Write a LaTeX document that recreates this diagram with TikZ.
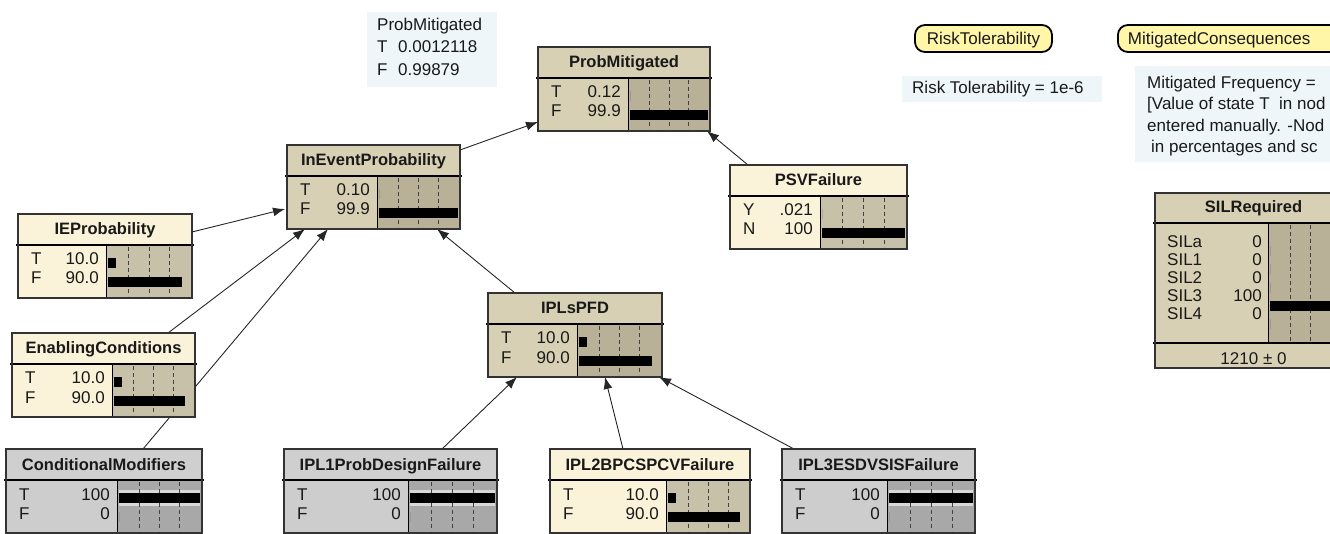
\documentclass[tikz,border=0pt]{standalone}
\usepackage{fontspec}
\setmainfont{Liberation Sans}
\usepackage{xcolor}
\usepackage{tikz}
\usetikzlibrary{arrows.meta,backgrounds}

\definecolor{tantitle}{RGB}{216,208,180}
\definecolor{tanbody}{RGB}{216,208,180}
\definecolor{tanbar}{RGB}{184,177,152}
\definecolor{tanband}{RGB}{184,177,152}
\definecolor{creamtitle}{RGB}{250,242,217}
\definecolor{creambody}{RGB}{250,242,217}
\definecolor{creambar}{RGB}{200,193,170}
\definecolor{creamband}{RGB}{200,193,170}
\definecolor{greytitle}{RGB}{207,207,207}
\definecolor{greybody}{RGB}{205,205,205}
\definecolor{greybar}{RGB}{168,168,168}
\definecolor{greyband}{RGB}{216,216,216}
\definecolor{notefill}{RGB}{238,246,250}
\definecolor{constfill}{RGB}{255,246,168}

\tikzset{
  bnframe/.style={minimum height=84pt, inner sep=0pt, outer sep=0pt},
  bnborder/.style={draw=black!80, line width=1.1pt},
  bntitle/.style={font=\fontsize{16.5}{18}\selectfont\bfseries,
    text=black!90, inner sep=0pt},
  bnstate/.style={font=\fontsize{17}{19}\selectfont, text=black!90,
    inner sep=0pt},
  bnrule/.style={line width=2pt, draw=black},
  bnsplit/.style={line width=1pt, draw=black},
  bntick/.style={line width=0.9pt, draw=black!75,
    dash pattern=on 4pt off 3pt},
  bnlink/.style={-{Latex[length=12pt,width=9pt]}, line width=0.9pt,
    draw=black!85},
  bnnote/.style={fill=notefill, inner sep=0pt},
  notetext/.style={font=\fontsize{17}{19}\selectfont, text=black!90,
    inner sep=0pt},
  bnconst/.style={draw=black, line width=1.8pt, fill=constfill,
    rounded corners=10pt, minimum height=27pt, inner sep=0pt,
    font=\fontsize{17}{19}\selectfont, text=black!90,
    text height=12pt, text depth=0pt}
}

% #1 name, #2/#3 top left corner, #4 width, #5 width of the state column,
% #6 palette (tan, cream, grey), #7 title, #8 rows as state/value/percent
\newcommand{\beliefbox}[8]{%
  \node[bnframe, fill=#6title, minimum width=#4pt, anchor=north west]
    (#1) at (#2,#3) {};
  \fill[#6body] ([yshift=-31pt]#1.north west) rectangle (#1.south east);
  \fill[#6bar] ([xshift=#5pt,yshift=-31pt]#1.north west)
    rectangle (#1.south east);
  \foreach \sname/\sval/\spct [count=\i] in {#8} {
    \pgfmathsetmacro{\rowb}{-32-19*\i}
    \pgfmathsetmacro{\barlen}{\spct<0.5 ? 0 : \spct/100*(#4-#5-4)}
    \fill[#6band] ([xshift=#5pt+2pt,yshift=\rowb pt+10pt]#1.north west)
      rectangle ++(\barlen pt,-16pt);
  }
  \foreach \tk in {0.25,0.5,0.75} {
    \pgfmathsetmacro{\tickx}{#5+2+\tk*(#4-#5-4)}
    \draw[bntick] ([xshift=\tickx pt,yshift=-33pt]#1.north west)
      -- ([xshift=\tickx pt,yshift=2pt]#1.south west);
  }
  \foreach \sname/\sval/\spct [count=\i] in {#8} {
    \pgfmathsetmacro{\rowb}{-32-19*\i}
    \pgfmathsetmacro{\barlen}{\spct<0.5 ? 0 : \spct/100*(#4-#5-4)}
    \fill[black] ([xshift=#5pt+2pt,yshift=\rowb pt+7pt]#1.north west)
      rectangle ++(\barlen pt,-10pt);
    \node[bnstate, anchor=base west]
      at ([xshift=13pt,yshift=\rowb pt]#1.north west) {\sname};
    \node[bnstate, anchor=base east]
      at ([xshift=#5pt-7pt,yshift=\rowb pt]#1.north west) {\sval};
  }
  \node[bntitle, anchor=base] at ([yshift=-21pt]#1.north) {#7};
  \draw[bnsplit] ([xshift=#5pt,yshift=-31pt]#1.north west)
    -- ([xshift=#5pt]#1.south west);
  \draw[bnrule] ([xshift=-2pt,yshift=-31pt]#1.north west)
    -- ([xshift=2pt,yshift=-31pt]#1.north east);
  \draw[bnborder] (#1.north west) rectangle (#1.south east);
}

\begin{document}
\begin{tikzpicture}[x=1pt,y=-1pt]
  \useasboundingbox (0,0) rectangle (1330,534);
  \clip (0,0) rectangle (1330,534);

  % notes
  \node[bnnote, minimum width=130pt, minimum height=75pt,
    anchor=north west] (probnote) at (367,12) {};
  \node[notetext, anchor=base west] (probnotehead)
    at ([xshift=10pt,yshift=-19pt]probnote.north west) {ProbMitigated};
  \node[notetext, anchor=base west] (probnotet)
    at ([xshift=10pt,yshift=-41pt]probnote.north west) {T};
  \node[notetext, anchor=base west] (probnotetv)
    at ([xshift=31pt,yshift=-41pt]probnote.north west) {0.0012118};
  \node[notetext, anchor=base west] (probnotef)
    at ([xshift=10pt,yshift=-64pt]probnote.north west) {F};
  \node[notetext, anchor=base west] (probnotefv)
    at ([xshift=31pt,yshift=-64pt]probnote.north west) {0.99879};

  \node[bnnote, minimum width=200pt, minimum height=26pt,
    anchor=north west] (risknote) at (902,76) {};
  \node[notetext, anchor=base west] (risknotetext)
    at ([xshift=10pt,yshift=-18pt]risknote.north west)
    {Risk Tolerability = 1e-6};

  \node[bnnote, minimum width=205pt, minimum height=96pt,
    anchor=north west] (mitnote) at (1135,66) {};
  \node[notetext, anchor=base west] (mitnotea)
    at ([xshift=12pt,yshift=-23pt]mitnote.north west)
    {Mitigated Frequency =};
  \node[notetext, anchor=base west] (mitnoteb)
    at ([xshift=12pt,yshift=-44pt]mitnote.north west)
    {[Value of state T\ \ in nod};
  \node[notetext, anchor=base west] (mitnotec)
    at ([xshift=12pt,yshift=-66pt]mitnote.north west)
    {entered manually. -Nod};
  \node[notetext, anchor=base west] (mitnoted)
    at ([xshift=16pt,yshift=-87pt]mitnote.north west)
    {in percentages and sc};

  % constant nodes
  \node[bnconst, minimum width=137pt] (risktol) at (983.5,38.5)
    {RiskTolerability};
  \node[bnconst, anchor=west, inner xsep=10pt, text width=220pt,
    align=left] (mitcons) at (1117,38.5) {MitigatedConsequences};

  % belief nodes
  \beliefbox{probmit}{538}{47}{172}{90}{tan}{ProbMitigated}
    {T/0.12/0.12, F/99.9/99.9}
  \beliefbox{inevent}{287}{145}{173}{90}{tan}{InEventProbability}
    {T/0.10/0.10, F/99.9/99.9}
  \beliefbox{ieprob}{18}{214}{174}{88}{cream}{IEProbability}
    {T/10.0/10, F/90.0/90}
  \beliefbox{psv}{730}{165}{177}{90}{cream}{PSVFailure}
    {Y/.021/0.021, N/100/100}
  \beliefbox{enabling}{12}{333}{183}{100}{cream}{EnablingConditions}
    {T/10.0/10, F/90.0/90}
  \beliefbox{iplspfd}{488}{293}{174}{89}{tan}{IPLsPFD}
    {T/10.0/10, F/90.0/90}
  \beliefbox{condmod}{6}{449}{196}{111}{grey}{ConditionalModifiers}
    {T/100/100, F/0/0}
  \beliefbox{iplone}{284}{449}{213}{124}{grey}{IPL1ProbDesignFailure}
    {T/100/100, F/0/0}
  \beliefbox{ipltwo}{550}{449}{200}{116}{cream}{IPL2BPCSPCVFailure}
    {T/10.0/10, F/90.0/90}
  \beliefbox{iplthree}{782}{449}{193}{105}{grey}{IPL3ESDVSISFailure}
    {T/100/100, F/0/0}

  % SIL node, five states and a footer
  \node[bnframe, fill=tantitle, minimum width=197pt, minimum height=175pt,
    anchor=north west] (silreq) at (1155,193) {};
  \fill[tanbar] ([xshift=113pt,yshift=-30pt]silreq.north west)
    rectangle ([yshift=25pt]silreq.south east);
  \foreach \tk in {0.25,0.5,0.75} {
    \pgfmathsetmacro{\tickx}{115+\tk*80}
    \draw[bntick] ([xshift=\tickx pt,yshift=-32pt]silreq.north west)
      -- ([xshift=\tickx pt,yshift=27pt]silreq.south west);
  }
  \foreach \sname/\sval/\spct [count=\i] in
      {SILa/0/0, SIL1/0/0, SIL2/0/0, SIL3/100/100, SIL4/0/0} {
    \pgfmathsetmacro{\rowb}{-36-18.2*\i}
    \fill[black] ([xshift=115pt,yshift=\rowb pt+1pt]silreq.north west)
      rectangle ++(\spct/100*80pt,-10pt);
    \node[bnstate, anchor=base west]
      at ([xshift=12pt,yshift=\rowb pt]silreq.north west) {\sname};
    \node[bnstate, anchor=base east]
      at ([xshift=107pt,yshift=\rowb pt]silreq.north west) {\sval};
  }
  \node[bntitle, anchor=base] at ([yshift=-20pt]silreq.north) {SILRequired};
  \node[bnstate, anchor=base] at ([yshift=-172pt]silreq.north) {1210 ± 0};
  \draw[bnsplit] ([xshift=113pt,yshift=-30pt]silreq.north west)
    -- ([xshift=113pt,yshift=25pt]silreq.south west);
  \draw[bnrule] ([xshift=-2pt,yshift=-30pt]silreq.north west)
    -- ([xshift=2pt,yshift=-30pt]silreq.north east);
  \draw[bnrule] ([xshift=-2pt,yshift=25pt]silreq.south west)
    -- ([xshift=2pt,yshift=25pt]silreq.south east);
  \draw[bnborder] (silreq.north west) rectangle (silreq.south east);

  % links sit under the nodes
  \begin{pgfonlayer}{background}
    \draw[bnlink] ([yshift=-5pt]inevent.north east)
      -- ([yshift=9pt]probmit.south west);
    \draw[bnlink] ([xshift=18pt]psv.north west)
      -- ([xshift=-3pt]probmit.south east);
    \draw[bnlink] ([yshift=-18pt]ieprob.north east)
      -- ([xshift=-2pt,yshift=-22pt]inevent.west);
    \draw[bnlink] ([xshift=-27pt]enabling.north east)
      -- ([xshift=18pt]inevent.south west);
    \draw[bnlink] ([xshift=-59pt]condmod.north east)
      -- ([xshift=41pt]inevent.south west);
    \draw[bnlink] ([xshift=27pt]iplspfd.north west)
      -- ([xshift=-23pt]inevent.south east);
    \draw[bnlink] ([xshift=-55pt]iplone.north east)
      -- ([xshift=29pt]iplspfd.south west);
    \draw[bnlink] ([xshift=73pt]ipltwo.north west)
      -- ([xshift=117pt]iplspfd.south west);
    \draw[bnlink] ([xshift=12pt]iplthree.north west)
      -- ([xshift=-3pt]iplspfd.south east);
  \end{pgfonlayer}
\end{tikzpicture}
\end{document}
